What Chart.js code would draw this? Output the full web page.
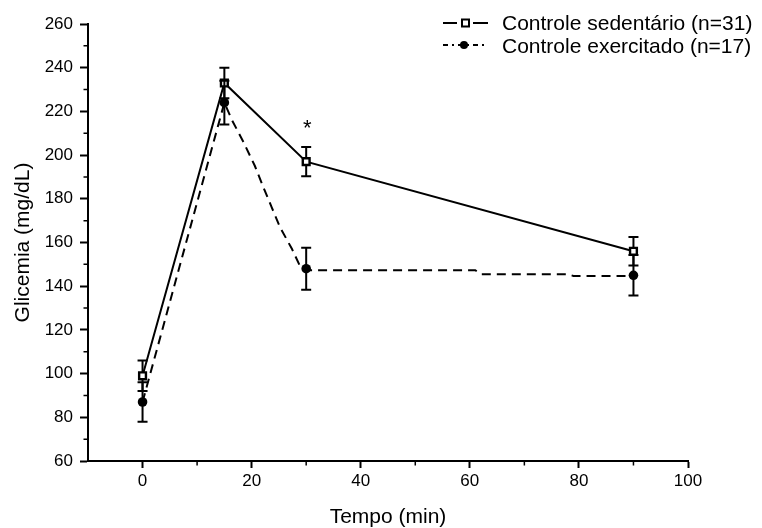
<!DOCTYPE html>
<html>
<head>
<meta charset="utf-8">
<script src="https://cdn.jsdelivr.net/npm/chart.js@4.4.1/dist/chart.umd.min.js"></script>
<style>
  html, body { margin: 0; padding: 0; background: #fff; }
</style>
</head>
<body>
<canvas id="chart" width="762" height="528"></canvas>
<script>
// --- data ---
const times = [0, 15, 30, 90];
const sedMean = [99, 233, 197, 156];
const sedErr = [7, 7, 6.7, 6.5];
const exMean = [87, 224, 148, 145];
const exErr = [9, 10, 9.6, 9.3];

// dashed curve of the exercised group
const exLineX = [0, 15, 16.4, 18.5, 20.6, 22.2, 23.7, 25.2, 27.4, 28.9, 30, 61, 62, 78, 79, 90];
const exLineY = [87, 224, 216, 206, 195, 185, 176, 167, 157, 149, 147.3, 147.3, 145.5, 145.5, 144.7, 144.7];

const sedLabel = 'Controle sedentário (n=31)';
const exLabel = 'Controle exercitado (n=17)';
const xTitle = 'Tempo (min)';
const yTitle = 'Glicemia (mg/dL)';
const xMinor = [10, 30, 50, 70, 90];
const yMinor = [70, 90, 110, 130, 150, 170, 190, 210, 230, 250];
const starAt = { x: 30.2, y: 214 };

const FONT = "'Liberation Sans', Arial, sans-serif";
const toPts = (xs, ys) => xs.map((x, i) => ({ x, y: ys[i] }));

// error bars, drawn through the scales
const errorBars = {
  id: 'errorBars',
  afterDatasetsDraw(chart) {
    const { ctx, scales: { x, y } } = chart;
    ctx.save();
    ctx.strokeStyle = '#000';
    ctx.lineWidth = 2;
    chart.data.datasets.forEach(ds => {
      if (!ds.errors) return;
      ds.data.forEach((p, i) => {
        const px = x.getPixelForValue(p.x);
        const top = y.getPixelForValue(p.y + ds.errors[i]);
        const bot = y.getPixelForValue(p.y - ds.errors[i]);
        const cy = y.getPixelForValue(p.y);
        const r = ds.gap;
        ctx.beginPath();
        ctx.moveTo(px, top); ctx.lineTo(px, cy - r);
        ctx.moveTo(px, cy + r); ctx.lineTo(px, bot);
        ctx.moveTo(px - 5, top); ctx.lineTo(px + 5, top);
        ctx.moveTo(px - 5, bot); ctx.lineTo(px + 5, bot);
        ctx.stroke();
      });
    });
    ctx.restore();
  }
};

// minor ticks + asterisk + legend
const extras = {
  id: 'extras',
  afterDraw(chart) {
    const { ctx, scales: { x, y } } = chart;
    ctx.save();
    ctx.strokeStyle = '#000';
    ctx.lineWidth = 1.5;
    ctx.beginPath();
    xMinor.forEach(v => {
      const px = x.getPixelForValue(v);
      ctx.moveTo(px, x.top); ctx.lineTo(px, x.top + 4.5);
    });
    yMinor.forEach(v => {
      const py = y.getPixelForValue(v);
      ctx.moveTo(y.right, py); ctx.lineTo(y.right - 4.5, py);
    });
    ctx.stroke();

    ctx.fillStyle = '#000';
    ctx.font = '22px ' + FONT;
    ctx.textAlign = 'center';
    ctx.textBaseline = 'middle';
    ctx.fillText('*', x.getPixelForValue(starAt.x), y.getPixelForValue(starAt.y) + 4);

    // legend
    const lx = 443, lw = 45, tx = 502;
    ctx.font = '21px ' + FONT;
    ctx.textAlign = 'left';
    ctx.lineWidth = 2;
    // row 1
    let ry = 23;
    ctx.beginPath();
    ctx.moveTo(lx, ry); ctx.lineTo(lx + 14, ry);
    ctx.moveTo(lx + 30, ry); ctx.lineTo(lx + lw, ry);
    ctx.stroke();
    ctx.fillStyle = '#fff';
    ctx.fillRect(lx + 19, ry - 3.5, 7, 7);
    ctx.strokeRect(lx + 19, ry - 3.5, 7, 7);
    ctx.fillStyle = '#000';
    ctx.fillText(sedLabel, tx, ry + 1);
    // row 2
    ry = 45;
    ctx.setLineDash([5, 4, 2, 4]);
    ctx.beginPath();
    ctx.moveTo(lx, ry); ctx.lineTo(lx + lw, ry);
    ctx.stroke();
    ctx.setLineDash([]);
    ctx.beginPath();
    ctx.arc(lx + 21, ry, 4, 0, Math.PI * 2);
    ctx.fill();
    ctx.fillText(exLabel, tx, ry + 2);
    ctx.restore();
  }
};

new Chart(document.getElementById('chart'), {
  type: 'line',
  data: {
    datasets: [
      {
        label: exLabel + ' line',
        data: toPts(exLineX, exLineY),
        borderColor: '#000',
        borderWidth: 2,
        borderDash: [9, 6],
        pointRadius: 0,
        tension: 0,
        fill: false
      },
      {
        label: exLabel,
        data: toPts(times, exMean),
        errors: exErr,
        gap: 0,
        showLine: false,
        pointStyle: 'circle',
        pointRadius: 4.8,
        pointBackgroundColor: '#000',
        pointBorderColor: '#000',
        pointBorderWidth: 0
      },
      {
        label: sedLabel,
        data: toPts(times, sedMean),
        errors: sedErr,
        gap: 3,
        borderColor: '#000',
        borderWidth: 2,
        tension: 0,
        fill: false,
        pointStyle: 'rect',
        pointRadius: 4.8,
        pointBackgroundColor: '#fff',
        pointBorderColor: '#000',
        pointBorderWidth: 2.4
      }
    ]
  },
  options: {
    responsive: false,
    animation: false,
    events: [],
    layout: { padding: { top: 24, right: 74, left: 0, bottom: 0 } },
    plugins: { legend: { display: false }, tooltip: { enabled: false } },
    scales: {
      x: {
        type: 'linear',
        min: -10, max: 100,
        afterFit: s => { s.height = 67; },
        border: { color: '#000', width: 2 },
        grid: { drawOnChartArea: false, tickLength: 7, tickColor: '#000', tickWidth: 2 },
        ticks: { stepSize: 20, includeBounds: false, color: '#000', padding: 3, font: { family: FONT, size: 17 } },
        title: { display: true, text: xTitle, color: '#000', padding: { top: 0, bottom: 0 }, font: { family: FONT, size: 21, lineHeight: 1.0 } }
      },
      y: {
        min: 60, max: 260,
        afterFit: s => { s.width = 88; },
        border: { color: '#000', width: 2 },
        grid: { drawOnChartArea: false, tickLength: 8, tickColor: '#000', tickWidth: 2 },
        ticks: { stepSize: 20, includeBounds: false, color: '#000', padding: 7, font: { family: FONT, size: 17 } },
        title: { display: true, text: yTitle, color: '#000', padding: { top: 11, bottom: 0 }, font: { family: FONT, size: 21 } }
      }
    }
  },
  plugins: [errorBars, extras]
});
</script>
</body>
</html>
